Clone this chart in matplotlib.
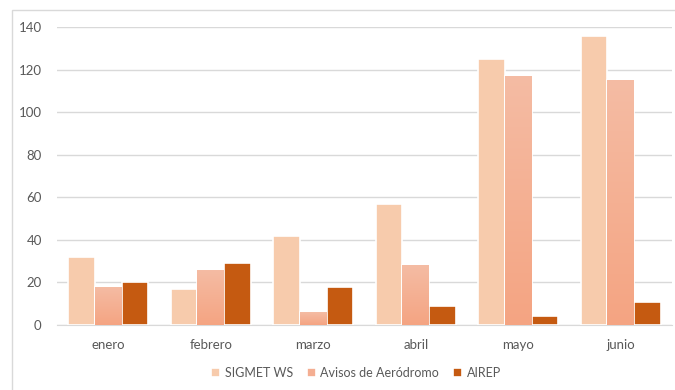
import numpy as np
from matplotlib import pyplot as plt
from matplotlib.patches import Rectangle
from matplotlib.colors import LinearSegmentedColormap

meses = ["enero", "febrero", "marzo", "abril", "mayo", "junio"]
sigmet = [32, 17, 42, 57, 125, 136]
avisos = [18, 26, 6, 28, 117, 115]
airep = [20, 29, 18, 9, 4, 11]
series_names = ["SIGMET WS", "Avisos de Aeródromo", "AIREP"]

c_sigmet = "#F7CBAC"
c_avisos = "#F4AE92"
c_airep = "#C55A11"
grid_col = "#D9D9D9"
text_col = "#595959"

plt.rcParams["font.family"] = ["Lato", "DejaVu Sans"]


def main():
    fig = plt.figure(figsize=(6.75, 3.9), dpi=100)
    ax = fig.add_axes([57 / 675, 1 - 325 / 390, 615 / 675, 298 / 390])

    # chart area border
    fig.patches.append(
        Rectangle((12 / 675, -0.1), 1.0, 1.1 - 10 / 390, transform=fig.transFigure,
                  fill=False, edgecolor=grid_col, linewidth=1.0)
    )

    x = np.arange(len(meses))
    w = 0.26
    b1 = ax.bar(x - w, sigmet, w, color=c_sigmet, edgecolor="white", linewidth=1.2,
                label=series_names[0], zorder=3)
    b2 = ax.bar(x, avisos, w, color=c_avisos, edgecolor="white", linewidth=1.2,
                label=series_names[1], zorder=3)
    b3 = ax.bar(x + w, airep, w, color=c_airep, edgecolor="white", linewidth=1.2,
                label=series_names[2], zorder=3)

    # vertical gradient on the Avisos bars (lighter at top)
    cmap = LinearSegmentedColormap.from_list("av", ["#F4A482", "#F5BCA4"])
    grad = np.linspace(0, 1, 256).reshape(-1, 1)
    for bar in b2:
        bx, by = bar.get_x(), bar.get_y()
        bw, bh = bar.get_width(), bar.get_height()
        im = ax.imshow(grad, cmap=cmap, origin="lower", aspect="auto",
                       extent=(bx, bx + bw, by, by + bh), zorder=3.5)
        im.set_clip_path(bar)
    ax.set_xlim(-0.5, len(meses) - 0.5)
    ax.set_ylim(0, 140)
    ax.set_yticks(np.arange(0, 141, 20))
    ax.set_xticks(x)
    ax.set_xticklabels(meses)
    ax.grid(axis="y", color=grid_col, linewidth=1.0, zorder=0)
    for s in ["top", "right", "left"]:
        ax.spines[s].set_visible(False)
    ax.spines["bottom"].set_color(grid_col)
    ax.tick_params(axis="both", length=0, colors=text_col, labelsize=9.5)
    ax.tick_params(axis="x", pad=10)
    ax.tick_params(axis="y", pad=11)

    fig.legend(
        handles=[b1, b2, b3], loc="center", bbox_to_anchor=(356 / 675, 1 - 373 / 390),
        ncol=3, frameon=False, fontsize=9, labelcolor=text_col,
        handlelength=0.75, handleheight=0.75, handletextpad=0.35, columnspacing=1.1,
    )

    plt.savefig("out.png")


if __name__ == "__main__":
    main()
